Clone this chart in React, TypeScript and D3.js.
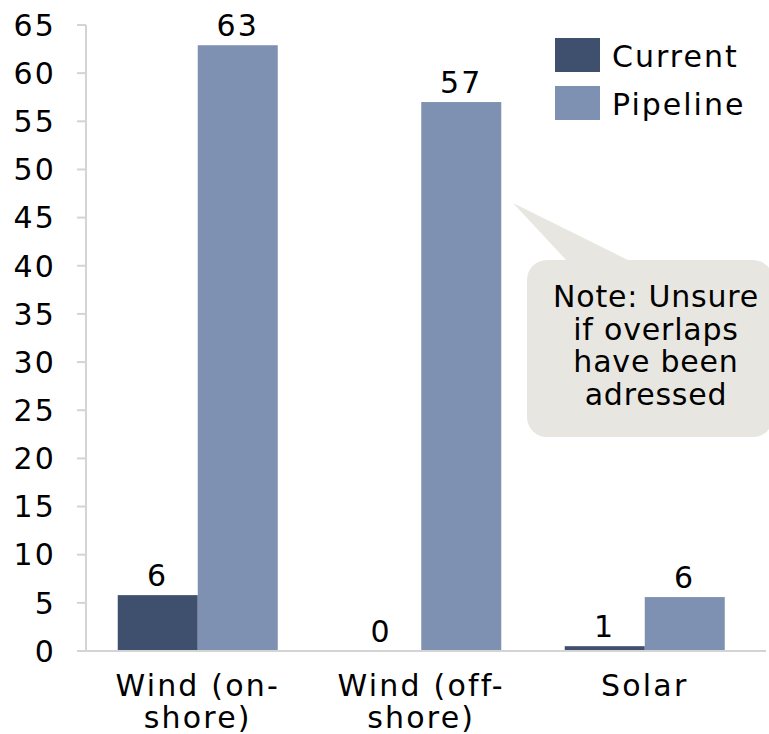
import { useEffect, useRef } from "react";
import * as d3 from "d3";

const categories = ["Wind (on-shore)", "Wind (off-shore)", "Solar"];
const categoryLines = [
  ["Wind (on-", "shore)"],
  ["Wind (off-", "shore)"],
  ["Solar"],
];
const seriesNames = ["Current", "Pipeline"];
const currentValues = [5.8, 0, 0.5];
const pipelineValues = [62.9, 57, 5.6];
const yTicks = [0, 5, 10, 15, 20, 25, 30, 35, 40, 45, 50, 55, 60, 65];
const noteLines = ["Note: Unsure", "if overlaps", "have been", "adressed"];

const colors = ["#3f4f6e", "#7f91b3"];
const FONT = "Verdana, 'DejaVu Sans', sans-serif";
const FS = 30;
const LS = 2.2;

export default function App() {
  const svgRef = useRef<SVGSVGElement>(null);
  const width = 769;
  const height = 734;

  useEffect(() => {
    if (!svgRef.current) return;
    const svg = d3.select(svgRef.current);
    svg.selectAll("*").remove();

    const left = 86;
    const y = d3.scaleLinear().domain([0, 65]).range([651, 25]);
    const x0 = d3
      .scaleBand()
      .domain(categories)
      .range([left, left + 3 * 223.5])
      .paddingInner(0.284)
      .paddingOuter(0.142);
    const x1 = d3
      .scaleBand()
      .domain(seriesNames)
      .range([0, x0.bandwidth()]);

    const axisColor = "#d4d4d4";

    const label = (sel: any) =>
      sel
        .attr("font-size", FS)
        .attr("font-family", FONT)
        .attr("letter-spacing", LS)
        .attr("fill", "#000");

    // ── Y axis ───────────────────────────────────────────────────────
    svg
      .append("line")
      .attr("x1", left)
      .attr("x2", left)
      .attr("y1", y(65))
      .attr("y2", y(0))
      .attr("stroke", axisColor)
      .attr("stroke-width", 2);

    const tick = svg.append("g");
    tick
      .selectAll("line")
      .data(yTicks)
      .enter()
      .append("line")
      .attr("x1", left - 9)
      .attr("x2", left)
      .attr("y1", (d) => y(d))
      .attr("y2", (d) => y(d))
      .attr("stroke", axisColor)
      .attr("stroke-width", 2);
    tick
      .selectAll("text")
      .data(yTicks)
      .enter()
      .append("text")
      .attr("x", 56)
      .attr("y", (d) => y(d))
      .attr("dy", "0.36em")
      .attr("text-anchor", "end")
      .call(label)
      .text((d) => d);

    // ── Bars ─────────────────────────────────────────────────────────
    const rows = categories.map((c, i) => ({
      category: c,
      values: [currentValues[i], pipelineValues[i]],
    }));

    const groups = svg
      .selectAll(".grp")
      .data(rows)
      .enter()
      .append("g")
      .attr("transform", (d) => `translate(${x0(d.category)},0)`);

    groups
      .selectAll("rect")
      .data((d) => d.values.map((v, j) => ({ v, s: seriesNames[j], j })))
      .enter()
      .append("rect")
      .attr("x", (d) => x1(d.s) ?? 0)
      .attr("y", (d) => y(d.v))
      .attr("width", x1.bandwidth())
      .attr("height", (d) => y(0) - y(d.v))
      .attr("fill", (d) => colors[d.j]);

    groups
      .selectAll("text")
      .data((d) => d.values.map((v, j) => ({ v, s: seriesNames[j] })))
      .enter()
      .append("text")
      .attr("x", (d) => (x1(d.s) ?? 0) + x1.bandwidth() / 2)
      .attr("y", (d) => y(d.v) - 9)
      .attr("text-anchor", "middle")
      .call(label)
      .text((d) => Math.round(d.v));

    // ── X axis ───────────────────────────────────────────────────────
    svg
      .append("line")
      .attr("x1", left - 9)
      .attr("x2", 766)
      .attr("y1", y(0))
      .attr("y2", y(0))
      .attr("stroke", axisColor)
      .attr("stroke-width", 2);

    categories.forEach((c, i) => {
      const t = svg
        .append("text")
        .attr("text-anchor", "middle")
        .call(label);
      categoryLines[i].forEach((line, k) => {
        t.append("tspan")
          .attr("x", (x0(c) ?? 0) + x0.bandwidth() / 2)
          .attr("y", 696 + k * 32)
          .text(line);
      });
    });

    // ── Legend ───────────────────────────────────────────────────────
    const legend = svg.append("g");
    seriesNames.forEach((s, i) => {
      legend
        .append("rect")
        .attr("x", 555)
        .attr("y", 38 + i * 48)
        .attr("width", 45)
        .attr("height", 34)
        .attr("fill", colors[i]);
      legend
        .append("text")
        .attr("x", 612)
        .attr("y", 56 + i * 48)
        .attr("dy", "0.36em")
        .call(label)
        .attr("letter-spacing", 2)
        .text(s);
    });

    // ── Callout note ─────────────────────────────────────────────────
    const note = svg.append("g");
    note
      .append("path")
      .attr("d", "M513,203 L568,262 L632,262 Z")
      .attr("fill", "#e8e6e0");
    note
      .append("rect")
      .attr("x", 527)
      .attr("y", 260)
      .attr("width", 246)
      .attr("height", 177)
      .attr("rx", 20)
      .attr("fill", "#e8e6e0");
    noteLines.forEach((line, k) => {
      note
        .append("text")
        .attr("x", 656)
        .attr("y", 307 + k * 32.5)
        .attr("text-anchor", "middle")
        .attr("font-size", FS)
        .attr("font-family", FONT)
        .attr("letter-spacing", 0.8)
        .attr("fill", "#000")
        .text(line);
    });
  }, []);

  return (
    <svg
      ref={svgRef}
      width={width}
      height={height}
      style={{ position: "absolute", left: 0, top: 0, background: "#fff" }}
    />
  );
}
